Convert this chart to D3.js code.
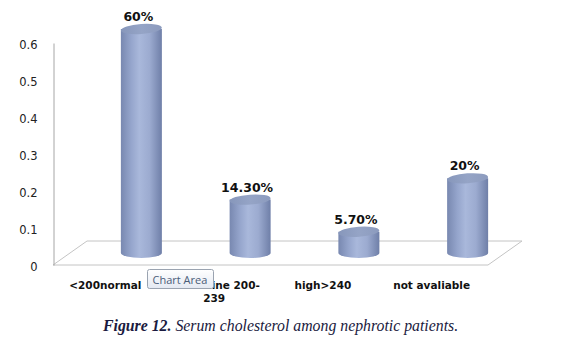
<!DOCTYPE html>
<html><head><meta charset="utf-8">
<script src="https://cdn.jsdelivr.net/npm/d3@7"></script>
<style>html,body{margin:0;padding:0;background:#fff;}</style>
</head><body>
<svg id="c" width="573" height="342"></svg>
<script>
const categories = ["<200normal", "borderline 200-239", "high>240", "not avaliable"];
const categoryLines = [["<200normal"], ["borderline 200-", "239"], ["high>240"], ["not avaliable"]];
const values = [0.60, 0.143, 0.057, 0.20];
const valueLabels = ["60%", "14.30%", "5.70%", "20%"];
const tickValues = [0, 0.1, 0.2, 0.3, 0.4, 0.5, 0.6];
const caption = ["Figure 12.", " Serum cholesterol among nephrotic patients."];

const svg = d3.select("#c");
const depth = {dx: 34, dy: -24};
const x = d3.scaleBand().domain(categories).range([51, 486]);
const y = d3.scaleLinear().domain([0, 0.6]).range([265, 43]);
const yBar = d3.scaleLinear().domain([0, 0.6]).range([253, 29]);
const barOffset = 36, rx = 20.5, ry = 5;

const defs = svg.append("defs");
const g1 = defs.append("linearGradient").attr("id", "cyl").attr("x1", "0%").attr("x2", "100%");
[[0, "#7888b0"], [0.25, "#95a5cc"], [0.45, "#a9b8db"], [0.7, "#9cabd0"], [1, "#6f7fa8"]]
  .forEach(([o, c]) => g1.append("stop").attr("offset", o).attr("stop-color", c));
const g2 = defs.append("linearGradient").attr("id", "top").attr("x1", "0%").attr("x2", "100%");
[[0, "#8797bb"], [0.5, "#95a4c6"], [1, "#8c9bbe"]]
  .forEach(([o, c]) => g2.append("stop").attr("offset", o).attr("stop-color", c));
const g3 = defs.append("linearGradient").attr("id", "tip").attr("x1", "0%").attr("x2", "0%").attr("y1", "0%").attr("y2", "100%");
[[0, "#ffffff"], [1, "#e4e9f2"]].forEach(([o, c]) => g3.append("stop").attr("offset", o).attr("stop-color", c));

// floor
const x0 = x.range()[0] + 2, x1 = x.range()[1] + 2;
const floorCol = "#c4c4c4";
const floor = [
  [[x0, y(0)], [x1, y(0)]],
  [[x0 + depth.dx, y(0) + depth.dy], [x1 + depth.dx, y(0) + depth.dy]],
  [[x0, y(0)], [x0 + depth.dx, y(0) + depth.dy]],
  [[x1, y(0)], [x1 + depth.dx, y(0) + depth.dy]]
];
svg.append("g").selectAll("line").data(floor).join("line")
  .attr("x1", d => d[0][0]).attr("y1", d => d[0][1])
  .attr("x2", d => d[1][0]).attr("y2", d => d[1][1])
  .attr("stroke", floorCol).attr("stroke-width", 1);

// y axis
const ax = svg.append("g").attr("transform", `translate(${x0 + 0.5},0)`)
  .call(d3.axisLeft(y).tickValues(tickValues).tickSize(0).tickPadding(16)
    .tickFormat(d => d === 0 ? "0" : d3.format(".1f")(d)));
ax.select(".domain").attr("stroke", "#a6a6a6");
ax.selectAll("text").attr("font-family", "DejaVu Sans").attr("font-size", 11.5)
  .attr("fill", "#222").attr("dy", "0.45em");

// bars
const bars = svg.append("g").selectAll("g").data(categories).join("g");
bars.each(function(c, i) {
  const g = d3.select(this);
  const cx = x(c) + x.bandwidth() / 2 + barOffset;
  const yb = yBar(0), yt = yBar(values[i]);
  g.append("path")
    .attr("d", `M${cx - rx},${yt} L${cx - rx},${yb} A${rx},${ry} 0 0 0 ${cx + rx},${yb} L${cx + rx},${yt} Z`)
    .attr("fill", "url(#cyl)");
  g.append("ellipse").attr("cx", cx).attr("cy", yt).attr("rx", rx).attr("ry", ry)
    .attr("transform", `rotate(-4,${cx},${yt})`)
    .attr("fill", "url(#top)");
  g.append("text").attr("x", cx - 3).attr("y", yt - 8).attr("text-anchor", "middle")
    .attr("font-family", "DejaVu Sans").attr("font-weight", "bold").attr("font-size", 12.5)
    .attr("fill", "#111").text(valueLabels[i]);
});

// category labels
const cl = svg.append("g").selectAll("text").data(categories).join("text")
  .attr("text-anchor", "middle")
  .attr("font-family", "DejaVu Sans").attr("font-weight", "bold").attr("font-size", 10.5)
  .attr("fill", "#111");
cl.each(function(c, i) {
  const t = d3.select(this);
  categoryLines[i].forEach((ln, k) => {
    t.append("tspan").attr("x", x(c) + x.bandwidth() / 2).attr("y", 289 + k * 13).text(ln);
  });
});

// tooltip
const tip = svg.append("g").attr("transform", "translate(147.5,269.5)");
tip.append("rect").attr("width", 66).attr("height", 19).attr("rx", 2)
  .attr("fill", "url(#tip)").attr("stroke", "#9aa3b0");
tip.append("text").attr("x", 5).attr("y", 14).attr("font-family", "Open Sans")
  .attr("font-size", 11).attr("fill", "#4a5d78").text("Chart Area");

// caption
const cap = svg.append("text").attr("x", 103).attr("y", 331)
  .attr("font-family", "Liberation Serif").attr("font-style", "italic").attr("font-size", 15.8)
  .attr("fill", "#1a1a40");
cap.append("tspan").attr("font-weight", "bold").text(caption[0]);
cap.append("tspan").text(caption[1]);
</script>
</body></html>
